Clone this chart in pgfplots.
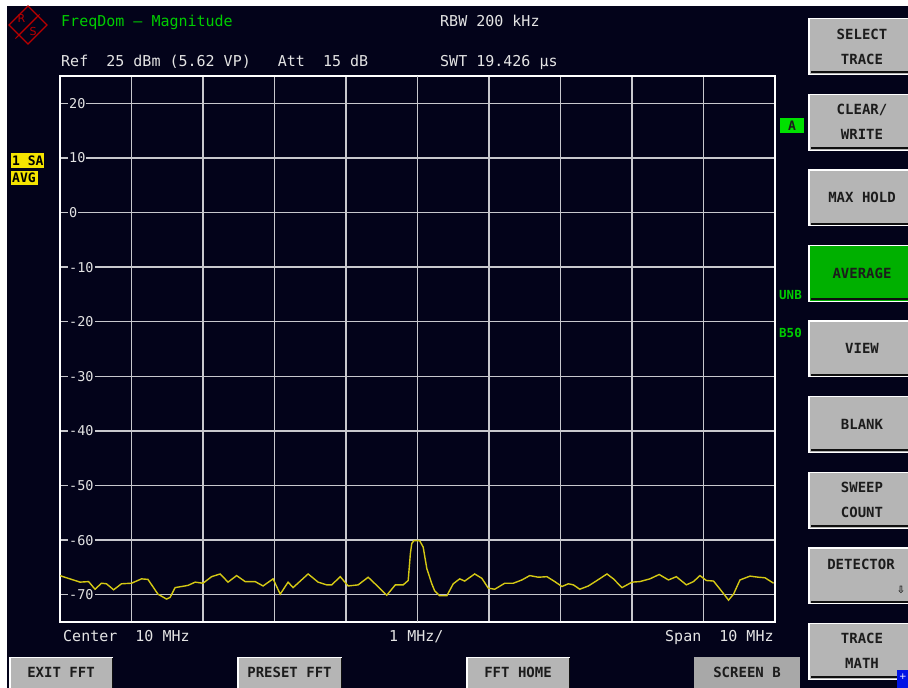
\documentclass[border=0pt]{standalone}
\usepackage{pgfplots}
\pgfplotsset{compat=1.18}
\usepackage{fontspec}
\setmainfont{Liberation Sans}
\newfontfamily\scr{DejaVu Sans Mono}
\newfontfamily\sym{DejaVu Sans}

\definecolor{bg}{RGB}{3,3,26}
\definecolor{gridc}{RGB}{200,200,205}
\definecolor{scrtxt}{RGB}{228,228,228}
\definecolor{scrgreen}{RGB}{0,205,0}
\definecolor{trace}{RGB}{212,200,20}
\definecolor{btngray}{RGB}{181,181,181}
\definecolor{btnflat}{RGB}{168,168,168}
\definecolor{btntext}{RGB}{28,28,28}
\definecolor{btndark}{RGB}{15,15,15}
\definecolor{avg}{RGB}{0,176,0}
\definecolor{flag}{RGB}{245,228,0}
\definecolor{flaggreen}{RGB}{0,225,0}
\definecolor{rsred}{RGB}{185,0,0}
\definecolor{bluebox}{RGB}{0,20,230}

\newcommand{\scrfont}{\scr\fontsize{15}{15}\selectfont}
\newcommand{\btnfont}{\scr\bfseries\fontsize{14}{25}\selectfont}

\begin{document}
\begin{tikzpicture}[x=1pt,y=1pt]
\useasboundingbox (0,0) rectangle (908,688);
\fill[white] (0,0) rectangle (908,688);
\fill[bg] (7,0) rectangle (908,682);

\begin{axis}[
  at={(60pt,66pt)}, anchor=south west,
  scale only axis, width=715pt, height=546pt,
  xmin=5, xmax=15, ymin=-75, ymax=25,
  xtick={5,6,...,15}, xticklabels={},
  ytick={-70,-60,...,20},
  yticklabels={-70,-60,-50,-40,-30,-20,-10,0,10,20},
  grid=major,
  major grid style={gridc, line width=1.3pt},
  extra x ticks={10}, extra x tick labels={},
  extra x tick style={grid style={white, line width=1.8pt}},
  tick style={draw=none},
  axis line style={white, line width=2pt},
  yticklabel style={anchor=west, xshift=8pt, fill=bg, inner sep=1pt,
    font=\scr\fontsize{13.5}{14}\selectfont, text=scrtxt},
]
\addplot[trace, line width=1.4pt] coordinates {
(5.00,-66.5)(5.02,-66.6)(5.21,-67.4)(5.28,-67.7)(5.40,-67.6)(5.49,-69.0)
(5.58,-67.9)(5.65,-68.0)(5.75,-69.1)(5.86,-68.0)(6.00,-67.9)(6.14,-67.1)
(6.23,-67.2)(6.37,-69.9)(6.49,-70.8)(6.54,-70.5)(6.61,-68.7)(6.79,-68.3)
(6.89,-67.7)(7.00,-67.9)(7.12,-66.7)(7.24,-66.2)(7.35,-67.7)(7.47,-66.5)
(7.59,-67.6)(7.73,-67.6)(7.84,-68.4)(7.98,-67.1)(8.08,-69.9)(8.19,-67.7)
(8.26,-68.7)(8.47,-66.2)(8.61,-67.7)(8.73,-68.2)(8.80,-68.2)(8.92,-66.7)
(9.03,-68.4)(9.17,-68.2)(9.31,-66.8)(9.43,-68.3)(9.57,-70.1)(9.69,-68.2)
(9.80,-68.2)(9.87,-67.4)(9.90,-62.5)(9.92,-60.6)(9.95,-60.1)(10.03,-60.1)
(10.08,-61.3)(10.13,-65.2)(10.20,-68.0)(10.24,-69.3)(10.31,-70.2)(10.41,-70.2)
(10.50,-68.0)(10.59,-67.1)(10.66,-67.5)(10.80,-66.2)(10.90,-67.0)(10.99,-68.8)
(11.08,-69.0)(11.22,-67.9)(11.34,-67.9)(11.46,-67.3)(11.57,-66.5)(11.69,-66.8)
(11.81,-66.7)(11.92,-67.6)(12.02,-68.5)(12.11,-68.0)(12.18,-68.2)(12.27,-69.0)
(12.39,-68.4)(12.51,-67.4)(12.65,-66.2)(12.74,-67.1)(12.86,-68.7)(13.00,-67.7)
(13.11,-67.6)(13.25,-67.1)(13.38,-66.3)(13.51,-67.3)(13.62,-66.7)(13.76,-68.2)
(13.86,-67.6)(13.95,-66.5)(14.04,-67.4)(14.14,-67.5)(14.25,-69.3)(14.35,-71.0)
(14.42,-69.9)(14.51,-67.3)(14.65,-66.6)(14.77,-66.8)(14.86,-66.9)(14.98,-67.9)
};
\end{axis}

% R&S logo
\draw[rsred, line width=1.2pt] (9,663) -- (28,682) -- (47,663) -- (28,644) -- cycle;
\foreach \o in {-1.6,0,1.6}
  \draw[rsred, line width=0.8pt] ({17+\o},{651+\o}) -- ({38+\o},{672+\o});
\node[rsred, font=\sym\fontsize{11}{11}\selectfont, inner sep=0] at (21.5,670) {R};
\node[rsred, font=\sym\fontsize{11}{11}\selectfont, inner sep=0] at (33,656) {S};

% header lines
\node[anchor=base west, inner sep=0, text=scrgreen, font=\scrfont] at (61,661.5) {FreqDom – Magnitude};
\node[anchor=base west, inner sep=0, text=scrtxt, font=\scrfont] at (61,621.5) {Ref~~25 dBm (5.62 VP)~~~Att~~15 dB};
\node[anchor=base west, inner sep=0, text=scrtxt, font=\scrfont] at (440,661.5) {RBW 200 kHz};
\node[anchor=base west, inner sep=0, text=scrtxt, font=\scrfont] at (440,621.5) {SWT 19.426 µs};

% footer lines
\node[anchor=base west, inner sep=0, text=scrtxt, font=\scrfont] at (63,46.5) {Center~~10 MHz};
\node[anchor=base west, inner sep=0, text=scrtxt, font=\scrfont] at (389,46.5) {1 MHz/};
\node[anchor=base west, inner sep=0, text=scrtxt, font=\scrfont] at (665,46.5) {Span~~10 MHz};

% trace flags
\fill[flag] (11,520) rectangle (44,535);
\node[anchor=base west, inner sep=0, font=\scr\bfseries\fontsize{13}{13}\selectfont] at (12,522.5) {1 SA};
\fill[flag] (11,503) rectangle (38,517);
\node[anchor=base west, inner sep=0, font=\scr\bfseries\fontsize{13}{13}\selectfont] at (12,505) {AVG};
\fill[flaggreen] (780,555) rectangle (804,570);
\node[anchor=base, inner sep=0, text=btntext, font=\scr\bfseries\fontsize{13}{13}\selectfont] at (792,557.5) {A};
\node[anchor=base west, inner sep=0, text=scrgreen, font=\scr\bfseries\fontsize{12.5}{13}\selectfont] at (779,388) {UNB};
\node[anchor=base west, inner sep=0, text=scrgreen, font=\scr\bfseries\fontsize{12.5}{13}\selectfont] at (779,350) {B50};

% softkeys on the right
\foreach \k/\c/\t in {0/btngray/{SELECT\\TRACE}, 1/btngray/{CLEAR/\\WRITE},
    2/btngray/{MAX HOLD}, 3/avg/{AVERAGE}, 4/btngray/{VIEW}, 5/btngray/{BLANK},
    6/btngray/{SWEEP\\COUNT}, 8/btngray/{TRACE\\MATH}} {
  \pgfmathsetmacro\yt{670-75.6*\k}
  \pgfmathsetmacro\yb{\yt-57}
  \fill[\c] (808,\yb) rectangle (915,\yt);
  \draw[white, line width=1.5pt] (808.75,\yb) -- (808.75,\yt-0.75) -- (915,\yt-0.75);
  \draw[white, line width=1pt] (808,\yb+0.5) -- (915,\yb+0.5);
  \draw[btndark, line width=2pt] (811,\yb+2.5) -- (915,\yb+2.5);
  \node[align=center, inner sep=0, text=btntext, font=\btnfont] at (862,\yt-28.5) {\t};
}
% detector key
\pgfmathsetmacro\yt{670-75.6*7}
\pgfmathsetmacro\yb{\yt-57}
\fill[btngray] (808,\yb) rectangle (915,\yt);
\draw[white, line width=1.5pt] (808.75,\yb) -- (808.75,\yt-0.75) -- (915,\yt-0.75);
\draw[white, line width=1pt] (808,\yb+0.5) -- (915,\yb+0.5);
\draw[btndark, line width=2pt] (811,\yb+2.5) -- (915,\yb+2.5);
\node[anchor=base, inner sep=0, text=btntext, font=\btnfont] at (861,\yt-22) {DETECTOR};
\node[anchor=base, inner sep=0, text=btntext, font=\sym\bfseries\fontsize{10}{10}\selectfont] at (901,\yt-46) {⇩};

% keys along the bottom
\foreach \xa/\xb/\t in {9/113/EXIT FFT, 237/342/PRESET FFT, 466/570/FFT HOME} {
  \fill[btngray] (\xa,0) rectangle (\xb,31);
  \draw[white, line width=1.5pt] (\xa+0.75,0) -- (\xa+0.75,30.25) -- (\xb,30.25);
  \draw[btndark, line width=1.5pt] (\xb-0.75,0) -- (\xb-0.75,30);
  \node[anchor=base, inner sep=0, text=btntext, font=\btnfont] at ({(\xa+\xb)/2},10) {\t};
}
\fill[btnflat] (694,0) rectangle (800,31);
\node[anchor=base, inner sep=0, text=btntext, font=\btnfont] at (747,10) {SCREEN B};

% small status box in the corner
\fill[bluebox] (897,0) rectangle (908,18);
\node[inner sep=0, text=white, font=\sym\fontsize{9}{9}\selectfont] at (903,11) {+};
\end{tikzpicture}
\end{document}
